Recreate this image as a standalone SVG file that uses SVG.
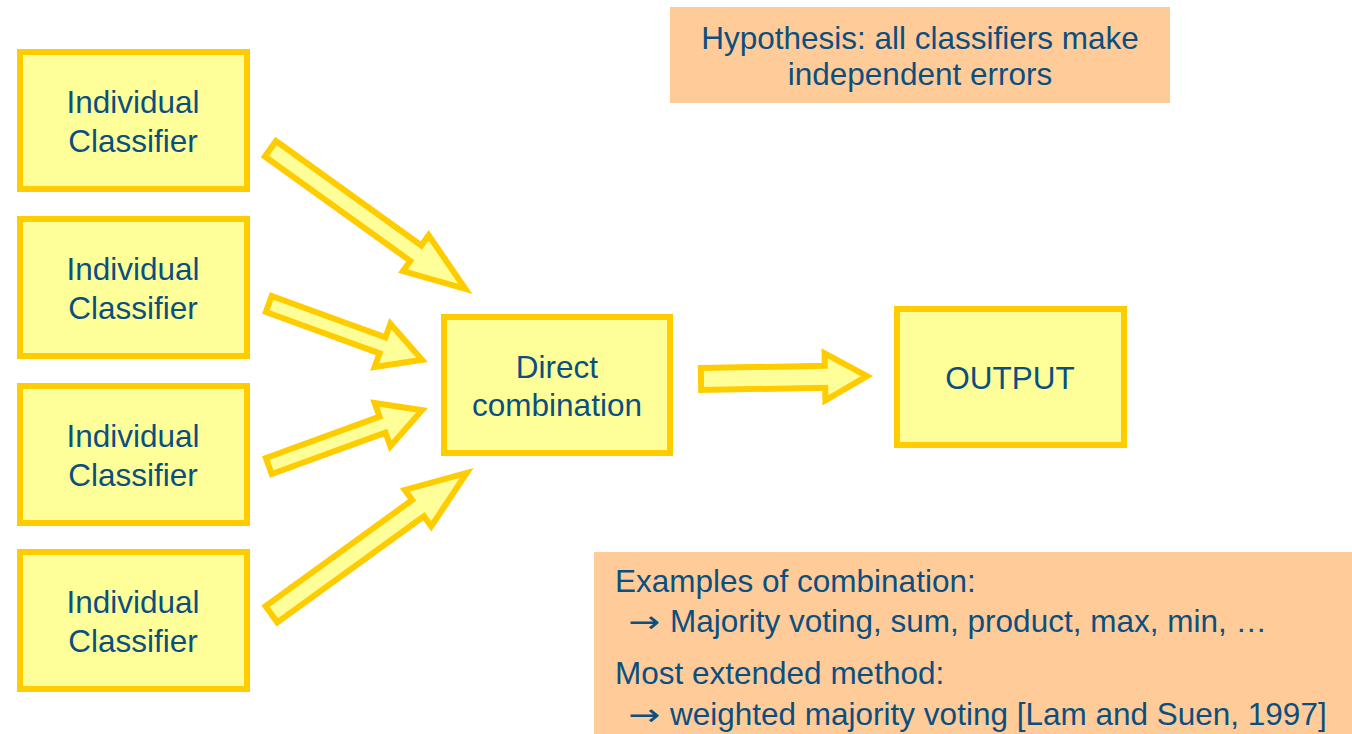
<svg xmlns="http://www.w3.org/2000/svg" width="1352" height="734" viewBox="0 0 1352 734">
  <style>
    .box { fill: #ffff99; stroke: #ffcc00; stroke-width: 6; }
    .note { fill: #ffcc99; stroke: none; }
    .arrow { fill: #ffff99; stroke: #ffcc00; stroke-width: 6; stroke-linejoin: miter; stroke-miterlimit: 10; }
    text { font-family: "Liberation Sans", Arial, Helvetica, sans-serif; font-size: 31.5px; fill: #0b4f80; }
    .c { text-anchor: middle; }
    .sym { font-family: "DejaVu Sans", sans-serif; font-size: 30px; }
  </style>
  <rect width="1352" height="734" fill="#ffffff"/>

  <!-- notes -->
  <g id="hypothesis">
    <rect class="note" x="670" y="7" width="500" height="96"/>
    <text class="c" x="920" y="49">Hypothesis: all classifiers make</text>
    <text class="c" x="920" y="85">independent errors</text>
  </g>
  <g id="examples">
    <rect class="note" x="594" y="552" width="758" height="182"/>
    <text x="615" y="592">Examples of combination:</text>
    <text class="sym" x="628" y="632" textLength="32" lengthAdjust="spacingAndGlyphs">→</text>
    <text x="670" y="632">Majority voting, sum, product, max, min, …</text>
    <text x="615" y="684">Most extended method:</text>
    <text class="sym" x="628" y="725" textLength="32" lengthAdjust="spacingAndGlyphs">→</text>
    <text x="670" y="725">weighted majority voting [Lam and Suen, 1997]</text>
  </g>

  <!-- classifiers -->
  <g id="classifier1">
    <rect class="box" x="20" y="52" width="227" height="137"/>
    <text class="c" x="133" y="113">Individual</text>
    <text class="c" x="133" y="152">Classifier</text>
  </g>
  <g id="classifier2">
    <rect class="box" x="20" y="219" width="227" height="137"/>
    <text class="c" x="133" y="280">Individual</text>
    <text class="c" x="133" y="319">Classifier</text>
  </g>
  <g id="classifier3">
    <rect class="box" x="20" y="386" width="227" height="137"/>
    <text class="c" x="133" y="447">Individual</text>
    <text class="c" x="133" y="486">Classifier</text>
  </g>
  <g id="classifier4">
    <rect class="box" x="20" y="552" width="227" height="137"/>
    <text class="c" x="133" y="613">Individual</text>
    <text class="c" x="133" y="652">Classifier</text>
  </g>

  <!-- combiner -->
  <g id="combiner">
    <rect class="box" x="444" y="317" width="226" height="136"/>
    <text class="c" x="557" y="378">Direct</text>
    <text class="c" x="557" y="416">combination</text>
  </g>

  <!-- output -->
  <g id="output">
    <rect class="box" x="897" y="309" width="227" height="136"/>
    <text class="c" x="1010" y="389">OUTPUT</text>
  </g>

  <!-- block arrows -->
  <g id="connectors">
    <polygon class="arrow" transform="translate(268,147) rotate(35.7)"
      points="3,-9.5 182,-9.5 182,-22 243,0 182,22 182,9.5 3,9.5"/>
    <polygon class="arrow" transform="translate(266,303) rotate(20)"
      points="3,-8.5 124,-8.5 124,-23 166,0 124,23 124,8.5 3,8.5"/>
    <polygon class="arrow" transform="translate(266,467) rotate(-20)"
      points="3,-8.5 124,-8.5 124,-23 166,0 124,23 124,8.5 3,8.5"/>
    <polygon class="arrow" transform="translate(269,616) rotate(-35.9)"
      points="3,-10 184,-10 184,-22.5 244,0 184,22.5 184,10 3,10"/>
    <polygon class="arrow" transform="translate(698,379) rotate(-1)"
      points="3,-11 127,-11 127,-23.5 169,0 127,23.5 127,11 3,11"/>
  </g>
</svg>
